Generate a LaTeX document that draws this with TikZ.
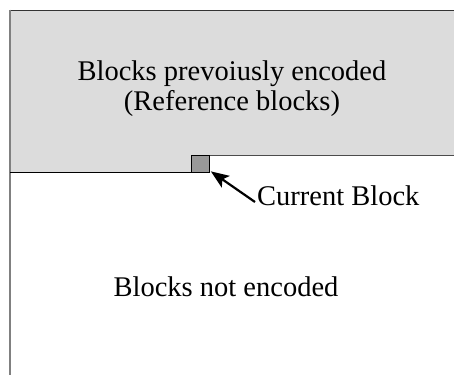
\documentclass[tikz,border=0pt]{standalone}
\usepackage{fontspec}
\setmainfont{Liberation Serif}
\usetikzlibrary{calc,arrows.meta}

\definecolor{refgray}{HTML}{DCDCDC}
\definecolor{curgray}{HTML}{999999}
\definecolor{edgegray}{HTML}{808080}

\begin{document}
\begin{tikzpicture}[x=1pt,y=-1pt,
cur/.style={draw=black,rectangle,fill=curgray,minimum width=18pt,minimum height=17pt,inner sep=0pt,line width=0.8pt},
lbl/.style={inner sep=0pt,align=center,font=\fontsize{28.5}{30}\selectfont}]
	\useasboundingbox (0,0) rectangle (454,375);
	% already encoded area
	\fill[refgray] (10,10) -- (454,10) -- (454,155) -- (209,155) -- (209,172) -- (10,172) -- cycle;
	\draw[line width=1pt,black!80] (10,10) -- (454,10);
	\draw[line width=1.6pt,edgegray] (10,9.5) -- (10,375);
	\draw[line width=1pt,black] (10,172) -- (200,172);
	\draw[line width=0.8pt,black!70] (200,155) -- (454,155);
	\node[cur] at (200,163.5) (c1) {};
	
	\node[lbl] at (232,89) (t1) {Blocks prevoiusly encoded\\(Reference blocks)};
	\node[lbl,anchor=west] at (257,196) (t2) {Current Block};
	\node[lbl] at (226,287) (t3) {Blocks not encoded};
	
	\draw[-{Stealth[length=18pt,width=14pt,inset=4pt]},line width=2.2pt] ([xshift=-2pt,yshift=-6pt]t2.west) -- ([xshift=1.5pt,yshift=1pt]c1.south east);
\end{tikzpicture}
\end{document}
